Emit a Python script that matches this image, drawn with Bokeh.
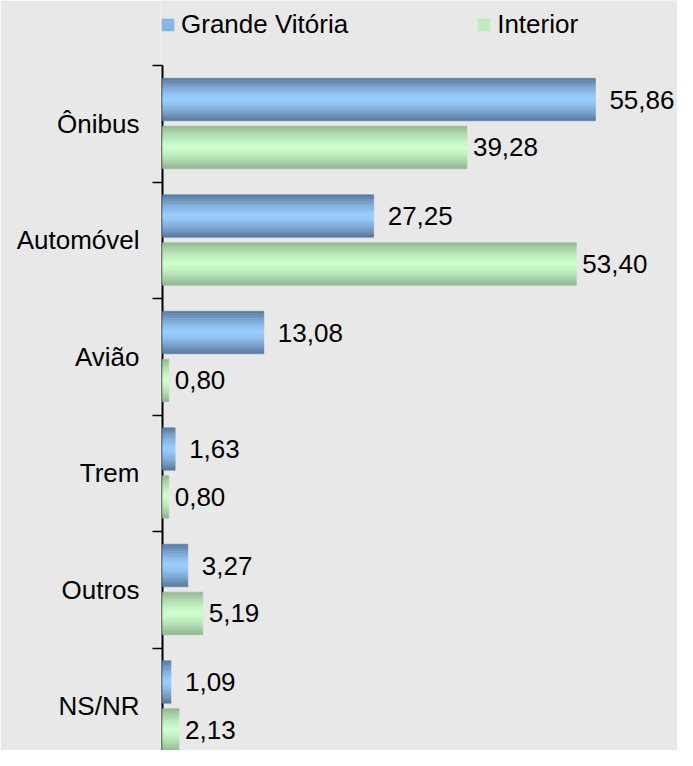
import numpy as np
from bokeh.plotting import figure
from bokeh.models import ColumnDataSource, Range1d, FixedTicker, Legend, LegendItem
from bokeh.core.properties import value
from bokeh.embed import file_html
from bokeh.resources import INLINE

# ---- data ----
categories = ["Ônibus", "Automóvel", "Avião", "Trem", "Outros", "NS/NR"]
grande_vitoria = [55.86, 27.25, 13.08, 1.63, 3.27, 1.09]
interior = [39.28, 53.40, 0.80, 0.80, 5.19, 2.13]
series_names = ["Grande Vitória", "Interior"]

# ---- style ----
FONT = "Liberation Sans"
FSIZE = "26px"
BG = "#e8e8e8"
W, H = 677, 750
FRAME_LEFT = 160
BAND_PX = 116.5
TOP_PX = 65
X_PX = 7.75
BAR_H = 0.365
OFFSETS = [0.292, 0.703]
DARK = [(86, 119, 154), (143, 181, 143)]
LIGHT = [(153, 204, 255), (204, 255, 204)]
LABEL_DX = [14, 6]
N = 18

x0 = -(162 - FRAME_LEFT) / X_PX
p = figure(width=W, height=H, output_backend="svg", toolbar_location=None,
           x_range=Range1d(x0, x0 + (W - FRAME_LEFT) / X_PX),
           y_range=Range1d((H - TOP_PX) / BAND_PX, -TOP_PX / BAND_PX),
           min_border_left=FRAME_LEFT, min_border_right=0, min_border_top=0, min_border_bottom=0)
p.background_fill_color = BG
p.border_fill_color = BG
p.outline_line_color = None
p.xaxis.visible = False
p.xgrid.visible = False
p.ygrid.visible = False

yax = p.yaxis[0]
n = len(categories)
yax.ticker = FixedTicker(ticks=[i + 0.5 for i in range(n)], minor_ticks=list(range(n + 1)))
yax.major_label_overrides = {i + 0.5: c for i, c in enumerate(categories)}
yax.major_tick_line_color = None
yax.major_tick_out = 0
yax.major_tick_in = 0
yax.minor_tick_out = 8
yax.minor_tick_in = 2
yax.minor_tick_line_color = "black"
yax.minor_tick_line_width = 1.5
yax.axis_line_color = None
yax.major_label_standoff = 13
yax.major_label_text_font = FONT
yax.major_label_text_font_size = FSIZE
yax.major_label_text_color = "black"

# visible category axis line starting at the first band boundary
p.segment(x0=[0], y0=[0], x1=[0], y1=[n], line_color="black", line_width=2)


def shade(dark, light, f):
    t = abs(2 * f - 1) ** 1.4
    c = [int(round(l + (d - l) * t)) for d, l in zip(dark, light)]
    return "#%02x%02x%02x" % tuple(c)


renderers = []
for s, vals in enumerate([grande_vitoria, interior]):
    ys, rights, cols = [], [], []
    for i, v in enumerate(vals):
        top = i + OFFSETS[s] - BAR_H / 2
        for k in range(N):
            f = (k + 0.5) / N
            ys.append(top + f * BAR_H)
            rights.append(v)
            cols.append(shade(DARK[s], LIGHT[s], f))
    src = ColumnDataSource(dict(y=ys, right=rights, color=cols))
    r = p.hbar(y="y", right="right", left=0, height=BAR_H / N, fill_color="color",
               line_color="color", line_width=0.6, source=src)
    renderers.append(r)

    centers = [i + OFFSETS[s] for i in range(n)]
    texts = [f"{v:.2f}".replace(".", ",") for v in vals]
    lsrc = ColumnDataSource(dict(x=vals, y=centers, t=texts))
    p.text(x="x", y="y", text="t", source=lsrc, x_offset=LABEL_DX[s],
           text_baseline="middle", text_align="left", text_font=value(FONT),
           text_font_size=value(FSIZE), text_color="black")

legend = Legend(items=[LegendItem(label=series_names[s], renderers=[renderers[s]], index=5)
                       for s in range(2)],
                orientation="horizontal", location=(0, H - 40), margin=0, padding=0,
                glyph_width=15, glyph_height=15, label_standoff=6, spacing=128,
                label_text_font=FONT, label_text_font_size=FSIZE, label_text_color="black",
                background_fill_alpha=0, border_line_alpha=0)
p.add_layout(legend, "center")

open("out.html", "w").write(file_html(p, INLINE))
